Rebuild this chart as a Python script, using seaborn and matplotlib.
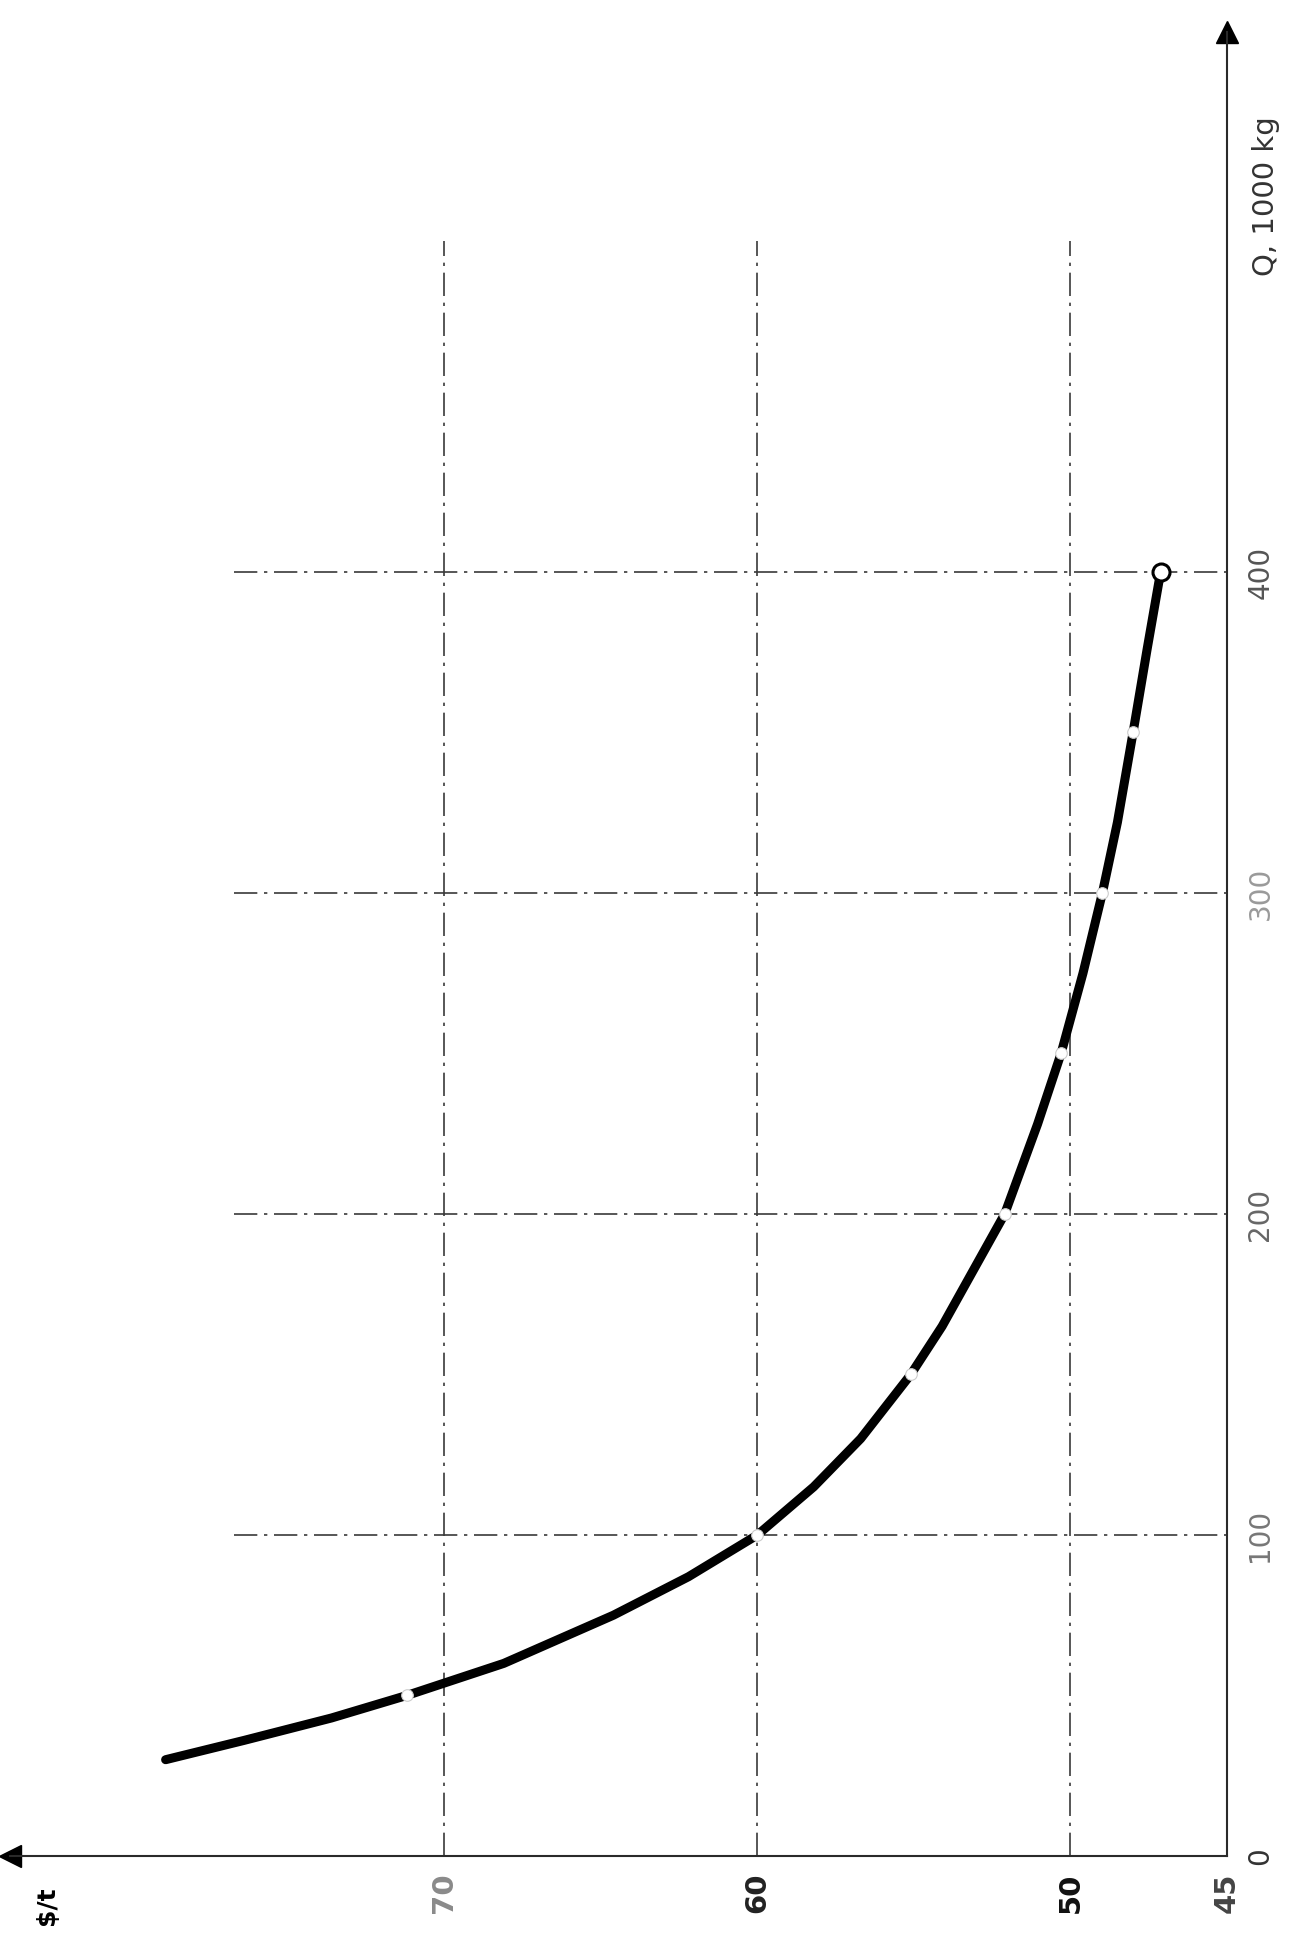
import matplotlib
matplotlib.use("Agg")
import matplotlib.pyplot as plt
import seaborn as sns
import pandas as pd

# ---- data read from the (rotated) chart ----
quantity = [30, 36, 43, 50, 60, 75, 87, 100, 115, 130, 150, 165, 200, 228, 250, 275, 300, 322, 350, 376, 400]   # Q, 1000 kg
price = [78.9, 76.4, 73.6, 71.2, 68.1, 64.6, 62.2, 60.0, 58.2, 56.7, 55.1, 54.1, 52.1, 51.05, 50.3, 49.6,
         48.98, 48.5, 48.0, 47.55, 47.12]                                                                     # $/t
marker_q = [50, 100, 150, 200, 250, 300, 350]
marker_p = [71.2, 60.0, 55.1, 52.1, 50.3, 48.98, 48.0]
end_q = [400]
end_p = [47.12]

price_ticks = [45, 50, 60, 70]
price_tick_labels = ["45", "50", "60", "70"]
price_tick_colors = ["#444444", "#111111", "#222222", "#8a8a8a"]
q_ticks = [0, 100, 200, 300, 400]
q_tick_labels = ["0", "100", "200", "300", "400"]
q_tick_colors = ["#333333", "#777777", "#666666", "#9a9a9a", "#555555"]
price_grid = [70, 60, 50]
q_grid = [100, 200, 300, 400]
q_axis_label = "Q, 1000 kg"
price_axis_label = "$/t"

df = pd.DataFrame({"price": price, "Q": quantity})
dm = pd.DataFrame({"price": marker_p, "Q": marker_q})
de = pd.DataFrame({"price": end_p, "Q": end_q})

sns.set_theme(style="white")
plt.rcParams["font.family"] = ["DejaVu Sans"]

fig = plt.figure(figsize=(12.95, 19.35), dpi=100)
ax = fig.add_axes([10 / 1295, 1 - 1856 / 1935, 1217 / 1295, (1856 - 32) / 1935])
ax.set_facecolor("white")

ax.set_xlim(83.87, 45)
ax.set_ylim(0, 568.2)

# grid (dash-dot)
gs = (0, (14, 4, 2, 4))
ax.vlines(price_grid, 0, 503, colors="#3a3a3a", linewidth=1.2, linestyles=[gs])
ax.hlines(q_grid, 76.7, 45, colors="#3a3a3a", linewidth=1.2, linestyles=[gs])

# curve
sns.lineplot(data=df, x="price", y="Q", sort=False, color="black", linewidth=6.5,
             ax=ax, solid_capstyle="round", solid_joinstyle="round")
sns.scatterplot(data=dm, x="price", y="Q", s=70, color="white", edgecolor="#cccccc",
                linewidth=0.8, ax=ax, zorder=5)
sns.scatterplot(data=de, x="price", y="Q", s=150, color="white", edgecolor="black",
                linewidth=2.2, ax=ax, zorder=6)

# spines / axes
for s in ["top", "left"]:
    ax.spines[s].set_visible(False)
for s in ["bottom", "right"]:
    ax.spines[s].set_visible(True)
    ax.spines[s].set_color("#2a2a2a")
    ax.spines[s].set_linewidth(1.5)

ax.yaxis.tick_right()
ax.set_xticks(price_ticks)
ax.set_xticklabels(price_tick_labels, rotation=90, fontsize=21, fontweight="bold")
for lab, c in zip(ax.get_xticklabels(), price_tick_colors):
    lab.set_color(c)
ax.set_yticks(q_ticks)
ax.set_yticklabels(q_tick_labels, rotation=90, fontsize=20, va="center")
for lab, c in zip(ax.get_yticklabels(), q_tick_colors):
    lab.set_color(c)
ax.tick_params(axis="x", length=0, pad=12)
ax.tick_params(axis="y", length=0, pad=14)
ax.set_xlabel("")
ax.set_ylabel("")
ax.grid(False)

# arrows at the axis ends
ax.plot([0.0], [0.0], marker="<", markersize=16, color="black", transform=ax.transAxes, clip_on=False)
ax.plot([1.0], [1.0], marker="^", markersize=16, color="black", transform=ax.transAxes, clip_on=False)

# axis labels
ax.text(43.77, 517, q_axis_label, rotation=90, ha="center", va="center", fontsize=21,
        color="#333333", clip_on=False)
ax.text(82.7, -15.5, price_axis_label, rotation=90, ha="center", va="center", fontsize=18,
        fontweight="bold", color="black", clip_on=False)

fig.savefig("out.png", dpi=100, facecolor="white")
